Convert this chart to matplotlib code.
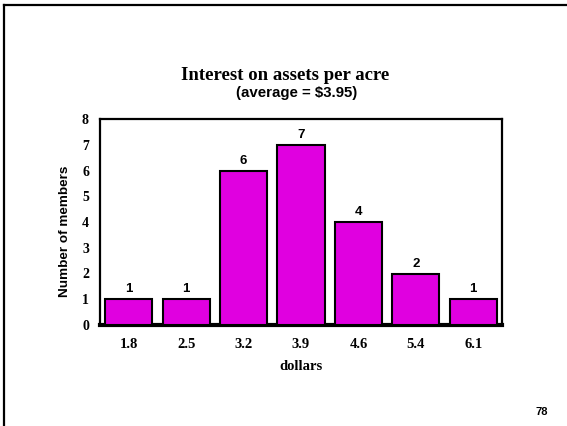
import matplotlib
matplotlib.use("Agg")
import matplotlib.pyplot as plt
from matplotlib.lines import Line2D

categories = ["1.8", "2.5", "3.2", "3.9", "4.6", "5.4", "6.1"]
counts = [1, 1, 6, 7, 4, 2, 1]
yticks = [0, 1, 2, 3, 4, 5, 6, 7, 8]

W, H = 567, 426
fig = plt.figure(figsize=(W / 100, H / 100), dpi=100)
fig.patch.set_facecolor("white")

# page frame (top and left edges)
fig.add_artist(Line2D([4 / W, 4 / W], [0, 1 - 5 / H], color="black", lw=1.6, transform=fig.transFigure))
fig.add_artist(Line2D([4 / W, 1], [1 - 5 / H, 1 - 5 / H], color="black", lw=1.6, transform=fig.transFigure))

left, right, top, bottom = 100, 502, 119, 325
ax = fig.add_axes([left / W, 1 - bottom / H, (right - left) / W, (bottom - top) / H])

x = list(range(len(categories)))
ax.bar(x, counts, width=0.82, color="#E000E0", edgecolor="black", linewidth=1.5, zorder=3)
ax.set_xlim(-0.5, len(categories) - 0.5)
ax.set_ylim(0, 8)

serif = "Liberation Serif"
sans = "Liberation Sans"

ax.set_yticks(yticks)
ax.set_yticklabels([str(v) for v in yticks], fontfamily=serif, fontweight="bold", fontsize=10)
ax.set_xticks(x)
ax.set_xticklabels(categories, fontfamily=serif, fontweight="bold", fontsize=10.5)
ax.tick_params(axis="both", length=0)
ax.tick_params(axis="y", pad=8)
ax.tick_params(axis="x", pad=9)

for s in ["top", "left", "right"]:
    ax.spines[s].set_linewidth(1.6)
ax.spines["bottom"].set_linewidth(3)

for xi, c in zip(x, counts):
    ax.text(xi, c + 0.15, str(c), ha="center", va="bottom", fontfamily=sans,
            fontweight="bold", fontsize=9.5)

ax.set_ylabel("Number of members", fontfamily=sans, fontweight="bold", fontsize=9.7)
ax.yaxis.set_label_coords(-0.072, 0.456)
ax.set_xlabel("dollars", fontfamily=serif, fontweight="bold", fontsize=10.5, labelpad=7)

fig.text(285 / W, 1 - 75 / H, "Interest on assets per acre", ha="center", va="center",
         fontfamily=serif, fontweight="bold", fontsize=13.5)
fig.text(297 / W, 1 - 93 / H, "(average = $3.95)", ha="center", va="center",
         fontfamily=sans, fontweight="bold", fontsize=10.8)
fig.text(542 / W, 1 - 412 / H, "78", ha="center", va="center",
         fontfamily=sans, fontweight="bold", fontsize=8)

fig.savefig("out.png", dpi=100)
